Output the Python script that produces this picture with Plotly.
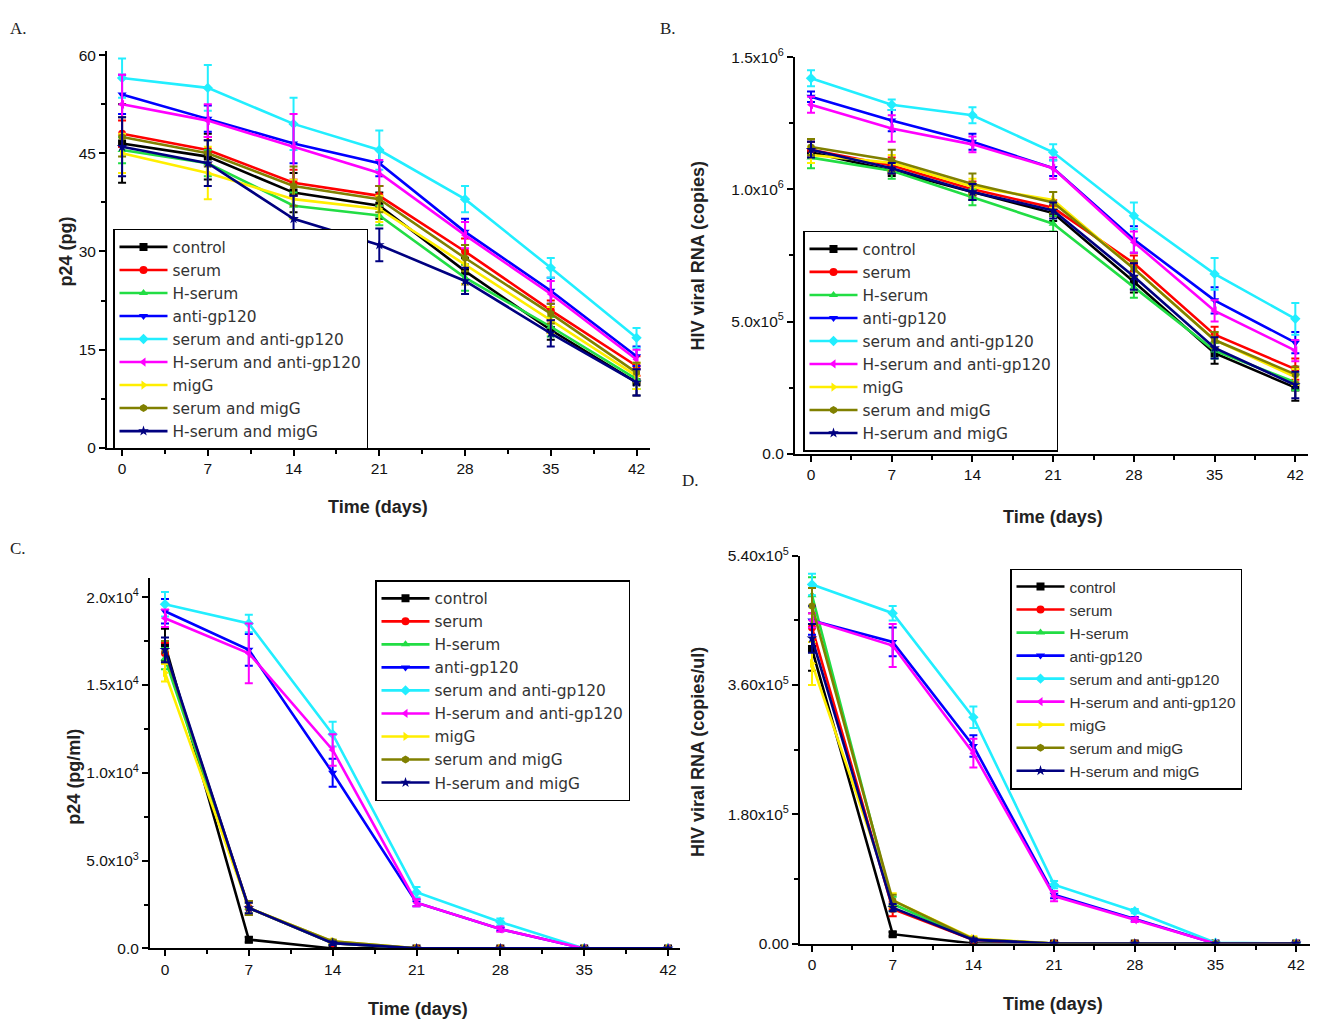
import plotly.graph_objects as go

# ---------------------------------------------------------------- data
days = [0, 7, 14, 21, 28, 35, 42]
groups = ["control", "serum", "H-serum", "anti-gp120", "serum and anti-gp120",
          "H-serum and anti-gp120", "migG", "serum and migG", "H-serum and migG"]

# Panel A: p24 (pg)
a_control = [46.5, 44.5, 39.0, 37.0, 27.0, 18.0, 10.0]
a_serum = [48.0, 45.5, 40.5, 38.5, 30.0, 21.0, 12.5]
a_hserum = [45.5, 43.5, 37.0, 35.5, 26.0, 18.5, 10.5]
a_antigp = [54.0, 50.3, 46.5, 43.5, 33.0, 24.0, 14.0]
a_serum_antigp = [56.5, 55.0, 49.5, 45.5, 38.0, 27.5, 16.8]
a_hserum_antigp = [52.5, 50.0, 46.0, 42.0, 32.5, 23.5, 13.5]
a_migg = [45.0, 42.0, 38.0, 36.5, 28.0, 19.5, 11.0]
a_serum_migg = [47.5, 45.0, 40.0, 38.0, 29.0, 20.5, 11.5]
a_hserum_migg = [46.0, 43.5, 35.0, 31.0, 25.5, 17.5, 10.0]

a_control_err = [6.0, 3.5, 3.0, 2.0, 2.0, 1.5, 2.0]
a_serum_err = [2.0, 2.0, 2.0, 1.5, 2.0, 1.5, 1.5]
a_hserum_err = [2.0, 2.0, 2.0, 1.5, 2.0, 1.5, 1.5]
a_antigp_err = [3.0, 2.0, 3.0, 2.0, 2.0, 2.0, 1.5]
a_serum_antigp_err = [3.0, 3.5, 4.0, 3.0, 2.0, 1.5, 1.5]
a_hserum_antigp_err = [4.5, 2.5, 5.0, 2.0, 2.0, 2.0, 1.5]
a_migg_err = [3.0, 4.0, 3.0, 2.0, 3.0, 2.0, 2.0]
a_serum_migg_err = [3.0, 2.0, 3.0, 2.0, 2.0, 1.5, 1.5]
a_hserum_migg_err = [4.5, 3.5, 3.5, 2.5, 2.0, 2.0, 2.0]

# Panel B: HIV viral RNA (copies)
b_control = [1.14e6, 1.07e6, 0.99e6, 0.91e6, 0.65e6, 0.38e6, 0.25e6]
b_serum = [1.15e6, 1.09e6, 1.00e6, 0.93e6, 0.72e6, 0.45e6, 0.32e6]
b_hserum = [1.12e6, 1.07e6, 0.97e6, 0.87e6, 0.63e6, 0.39e6, 0.27e6]
b_antigp = [1.35e6, 1.26e6, 1.18e6, 1.08e6, 0.81e6, 0.58e6, 0.42e6]
b_serum_antigp = [1.42e6, 1.32e6, 1.28e6, 1.14e6, 0.90e6, 0.68e6, 0.51e6]
b_hserum_antigp = [1.32e6, 1.23e6, 1.17e6, 1.08e6, 0.80e6, 0.54e6, 0.39e6]
b_migg = [1.13e6, 1.10e6, 1.01e6, 0.96e6, 0.70e6, 0.43e6, 0.29e6]
b_serum_migg = [1.16e6, 1.11e6, 1.02e6, 0.95e6, 0.70e6, 0.43e6, 0.30e6]
b_hserum_migg = [1.15e6, 1.08e6, 0.99e6, 0.92e6, 0.67e6, 0.40e6, 0.26e6]

b_control_err = [0.04e6, 0.02e6, 0.03e6, 0.03e6, 0.04e6, 0.04e6, 0.05e6]
b_serum_err = [0.03e6, 0.03e6, 0.03e6, 0.03e6, 0.03e6, 0.03e6, 0.04e6]
b_hserum_err = [0.04e6, 0.03e6, 0.03e6, 0.03e6, 0.04e6, 0.03e6, 0.03e6]
b_antigp_err = [0.02e6, 0.04e6, 0.03e6, 0.03e6, 0.05e6, 0.05e6, 0.04e6]
b_serum_antigp_err = [0.03e6, 0.02e6, 0.03e6, 0.03e6, 0.05e6, 0.06e6, 0.06e6]
b_hserum_antigp_err = [0.03e6, 0.05e6, 0.03e6, 0.04e6, 0.04e6, 0.04e6, 0.04e6]
b_migg_err = [0.03e6, 0.03e6, 0.03e6, 0.03e6, 0.03e6, 0.03e6, 0.03e6]
b_serum_migg_err = [0.03e6, 0.04e6, 0.04e6, 0.04e6, 0.03e6, 0.03e6, 0.03e6]
b_hserum_migg_err = [0.03e6, 0.02e6, 0.03e6, 0.03e6, 0.05e6, 0.04e6, 0.05e6]

# Panel C: p24 (pg/ml)
c_control = [17300, 500, 0, 0, 0, 0, 0]
c_serum = [16800, 2300, 300, 0, 0, 0, 0]
c_hserum = [16500, 2300, 300, 0, 0, 0, 0]
c_antigp = [19200, 17000, 10000, 2600, 1100, 0, 0]
c_serum_antigp = [19600, 18500, 12200, 3200, 1500, 0, 0]
c_hserum_antigp = [18800, 16800, 11300, 2600, 1100, 0, 0]
c_migg = [15700, 2300, 400, 0, 0, 0, 0]
c_serum_migg = [16900, 2300, 400, 0, 0, 0, 0]
c_hserum_migg = [17000, 2300, 300, 0, 0, 0, 0]

c_control_err = [900, 150, 50, 0, 0, 0, 0]
c_serum_err = [600, 400, 100, 0, 0, 0, 0]
c_hserum_err = [600, 300, 100, 0, 0, 0, 0]
c_antigp_err = [700, 900, 800, 200, 100, 0, 0]
c_serum_antigp_err = [700, 500, 700, 300, 200, 0, 0]
c_hserum_antigp_err = [500, 1700, 900, 200, 150, 0, 0]
c_migg_err = [500, 300, 100, 0, 0, 0, 0]
c_serum_migg_err = [600, 400, 100, 0, 0, 0, 0]
c_hserum_migg_err = [700, 300, 100, 0, 0, 0, 0]

# Panel D: HIV viral RNA (copies/ul)
d_control = [4.10e5, 0.13e5, 0, 0, 0, 0, 0]
d_serum = [4.40e5, 0.48e5, 0.05e5, 0, 0, 0, 0]
d_hserum = [4.85e5, 0.55e5, 0.06e5, 0, 0, 0, 0]
d_antigp = [4.50e5, 4.20e5, 2.75e5, 0.68e5, 0.34e5, 0, 0]
d_serum_antigp = [5.00e5, 4.60e5, 3.15e5, 0.82e5, 0.45e5, 0.01e5, 0]
d_hserum_antigp = [4.50e5, 4.15e5, 2.65e5, 0.66e5, 0.33e5, 0, 0]
d_migg = [3.90e5, 0.60e5, 0.07e5, 0, 0, 0, 0]
d_serum_migg = [4.70e5, 0.60e5, 0.06e5, 0, 0, 0, 0]
d_hserum_migg = [4.25e5, 0.50e5, 0.05e5, 0, 0, 0, 0]

d_control_err = [0.30e5, 0.03e5, 0, 0, 0, 0, 0]
d_serum_err = [0.20e5, 0.10e5, 0.02e5, 0, 0, 0, 0]
d_hserum_err = [0.25e5, 0.10e5, 0.02e5, 0, 0, 0, 0]
d_antigp_err = [0.20e5, 0.20e5, 0.15e5, 0.05e5, 0.03e5, 0, 0]
d_serum_antigp_err = [0.15e5, 0.10e5, 0.15e5, 0.05e5, 0.03e5, 0, 0]
d_hserum_antigp_err = [0.10e5, 0.30e5, 0.20e5, 0.07e5, 0.03e5, 0, 0]
d_migg_err = [0.30e5, 0.10e5, 0.03e5, 0, 0, 0, 0]
d_serum_migg_err = [0.25e5, 0.08e5, 0.02e5, 0, 0, 0, 0]
d_hserum_migg_err = [0.20e5, 0.05e5, 0.02e5, 0, 0, 0, 0]

# Tick labels
a_ticks = [0, 15, 30, 45, 60]
a_ticktext = ["0", "15", "30", "45", "60"]
b_ticks = [0, 0.5e6, 1.0e6, 1.5e6]
b_ticktext = ["0.0", "5.0x10<sup>5</sup>", "1.0x10<sup>6</sup>", "1.5x10<sup>6</sup>"]
c_ticks = [0, 5000, 10000, 15000, 20000]
c_ticktext = ["0.0", "5.0x10<sup>3</sup>", "1.0x10<sup>4</sup>", "1.5x10<sup>4</sup>", "2.0x10<sup>4</sup>"]
d_ticks = [0, 1.8e5, 3.6e5, 5.4e5]
d_ticktext = ["0.00", "1.80x10<sup>5</sup>", "3.60x10<sup>5</sup>", "5.40x10<sup>5</sup>"]

# ---------------------------------------------------------------- styling
colors = ["#000000", "#ff0000", "#22dd44", "#0000ff", "#22eeff",
          "#ff00ff", "#ffee00", "#808000", "#000080"]
symbols = ["square", "circle", "triangle-up", "triangle-down", "diamond",
           "triangle-left", "triangle-right", "hexagon", "star"]
FONT = "Liberation Sans, Arial, sans-serif"
WIDE_FONT = "DejaVu Sans, Verdana, sans-serif"

panels = [
    ("x", "y", "legend",
     [a_control, a_serum, a_hserum, a_antigp, a_serum_antigp, a_hserum_antigp, a_migg, a_serum_migg, a_hserum_migg],
     [a_control_err, a_serum_err, a_hserum_err, a_antigp_err, a_serum_antigp_err, a_hserum_antigp_err, a_migg_err, a_serum_migg_err, a_hserum_migg_err]),
    ("x2", "y2", "legend2",
     [b_control, b_serum, b_hserum, b_antigp, b_serum_antigp, b_hserum_antigp, b_migg, b_serum_migg, b_hserum_migg],
     [b_control_err, b_serum_err, b_hserum_err, b_antigp_err, b_serum_antigp_err, b_hserum_antigp_err, b_migg_err, b_serum_migg_err, b_hserum_migg_err]),
    ("x3", "y3", "legend3",
     [c_control, c_serum, c_hserum, c_antigp, c_serum_antigp, c_hserum_antigp, c_migg, c_serum_migg, c_hserum_migg],
     [c_control_err, c_serum_err, c_hserum_err, c_antigp_err, c_serum_antigp_err, c_hserum_antigp_err, c_migg_err, c_serum_migg_err, c_hserum_migg_err]),
    ("x4", "y4", "legend4",
     [d_control, d_serum, d_hserum, d_antigp, d_serum_antigp, d_hserum_antigp, d_migg, d_serum_migg, d_hserum_migg],
     [d_control_err, d_serum_err, d_hserum_err, d_antigp_err, d_serum_antigp_err, d_hserum_antigp_err, d_migg_err, d_serum_migg_err, d_hserum_migg_err]),
]

fig = go.Figure()
for xa, ya, leg, series, errors in panels:
    for name, vals, err, col, sym in zip(groups, series, errors, colors, symbols):
        fig.add_trace(go.Scatter(
            x=days, y=vals, name=name, mode="lines+markers",
            xaxis=xa, yaxis=ya, legend=leg,
            line=dict(color=col, width=2.6),
            marker=dict(symbol=sym, size=8, color=col),
            error_y=dict(type="data", array=err, visible=True,
                         color=col, thickness=2, width=4),
        ))

W, H = 1321, 1032


def xdom(l, r):
    return [l / W, r / W]


def ydom(bottom, top):
    return [1 - bottom / H, 1 - top / H]


tickfont = dict(family=FONT, size=15.5, color="#111")
axis_common = dict(showline=True, linecolor="black", linewidth=2,
                   ticks="outside", ticklen=6, tickwidth=2, tickcolor="black",
                   showgrid=False, zeroline=False, tickfont=tickfont)
xaxis_common = dict(axis_common, tickvals=days, ticktext=[str(d) for d in days],
                    minor=dict(ticks="outside", ticklen=4, tickwidth=1.5,
                               tickcolor="black", tick0=0, dtick=3.5))

fig.update_layout(
    width=W, height=H,
    margin=dict(l=0, r=0, t=0, b=0),
    paper_bgcolor="white", plot_bgcolor="white",
    font=dict(family=FONT, color="#222"),
    xaxis=dict(xaxis_common, domain=xdom(107, 650), range=[-1.23, 43.1], anchor="y"),
    yaxis=dict(axis_common, domain=ydom(445, 41), range=[0, 60.6], anchor="x",
               tickvals=a_ticks, ticktext=a_ticktext,
               minor=dict(ticks="outside", ticklen=4, tickwidth=1.5,
                          tickcolor="black", tick0=0, dtick=7.5)),
    xaxis2=dict(xaxis_common, domain=xdom(795, 1308), range=[-1.39, 43.1], anchor="y2"),
    yaxis2=dict(axis_common, domain=ydom(451, 47), range=[0, 1.5e6], anchor="x2",
                tickvals=b_ticks, ticktext=b_ticktext,
                minor=dict(ticks="outside", ticklen=4, tickwidth=1.5,
                           tickcolor="black", tick0=0, dtick=2.5e5)),
    xaxis3=dict(xaxis_common, domain=xdom(150, 680), range=[-1.25, 43.0], anchor="y3"),
    yaxis3=dict(axis_common, domain=ydom(955, 578), range=[0, 21070], anchor="x3",
                tickvals=c_ticks, ticktext=c_ticktext,
                minor=dict(ticks="outside", ticklen=4, tickwidth=1.5,
                           tickcolor="black", tick0=0, dtick=2500)),
    xaxis4=dict(xaxis_common, domain=xdom(800, 1310), range=[-1.04, 43.2], anchor="y4"),
    yaxis4=dict(axis_common, domain=ydom(950, 555), range=[0, 5.4e5], anchor="x4",
                tickvals=d_ticks, ticktext=d_ticktext,
                minor=dict(ticks="outside", ticklen=4, tickwidth=1.5,
                           tickcolor="black", tick0=0, dtick=0.9e5)),
)

legend_common = dict(bgcolor="white", bordercolor="black", borderwidth=1.5,
                     itemwidth=48, tracegroupgap=0, xanchor="left", yanchor="top",
                     itemclick=False, itemdoubleclick=False)
wide_legend_font = dict(family=WIDE_FONT, size=15.4, color="#333")
narrow_legend_font = dict(family=FONT, size=15.4, color="#333")
fig.update_layout(
    legend=dict(legend_common, font=wide_legend_font, x=113 / W, y=1 - 222 / H),
    legend2=dict(legend_common, font=wide_legend_font, x=803 / W, y=1 - 224 / H),
    legend3=dict(legend_common, font=wide_legend_font, x=375 / W, y=1 - 580 / H),
    legend4=dict(legend_common, font=narrow_legend_font, x=1010 / W, y=1 - 568 / H),
)

# Panel letters and axis titles
title_font = dict(family=FONT, size=18, color="#222")
letter_font = dict(family="Liberation Serif, Times New Roman, serif", size=17, color="#222")
annots = [
    ("A.", 18, 18, 0, letter_font),
    ("B.", 668, 18, 0, letter_font),
    ("C.", 18, 548, 0, letter_font),
    ("D.", 690, 478, 0, letter_font),
    ("<b>Time (days)</b>", 378, 505, 0, title_font),
    ("<b>Time (days)</b>", 1053, 515, 0, title_font),
    ("<b>Time (days)</b>", 418, 1017, 0, title_font),
    ("<b>Time (days)</b>", 1053, 1012, 0, title_font),
    ("<b>p24 (pg)</b>", 66, 245, -90, title_font),
    ("<b>HIV viral RNA (copies)</b>", 698, 250, -90, title_font),
    ("<b>p24 (pg/ml)</b>", 74, 780, -90, title_font),
    ("<b>HIV viral RNA (copies/ul)</b>", 698, 755, -90, title_font),
]
for text, px, py, ang, fnt in annots:
    fig.add_annotation(text=text, x=px / W, y=1 - py / H, xref="paper", yref="paper",
                       showarrow=False, textangle=ang, font=fnt,
                       xanchor="center", yanchor="middle")

fig.write_html("out.html")
